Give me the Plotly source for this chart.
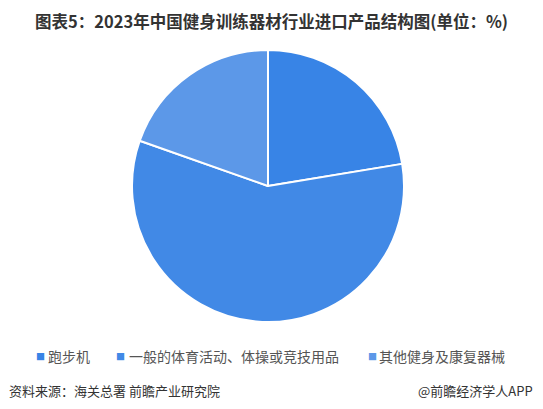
import plotly.graph_objects as go

# 2023年中国健身训练器材行业进口产品结构
categories = ['跑步机', '一般的体育活动、体操或竞技用品', '其他健身及康复器械']
shares = [22.4, 58.0, 19.6]
colors = ['#3884e6', '#4189e6', '#5c98e8']

# the page body adds an 8px margin, so the figure is drawn 8px smaller
# and every reference pixel position is shifted by that margin
W, H = 535, 401


def px(x):
    return (x - 8) / W


def py(y):
    return 1 - (y - 8) / H


fig = go.Figure(go.Pie(
    labels=categories,
    values=shares,
    sort=False,
    direction='clockwise',
    rotation=0,
    textinfo='none',
    hoverinfo='label+percent',
    marker=dict(colors=colors, line=dict(color='white', width=2)),
    domain=dict(x=[px(132), px(404)], y=[py(322), py(50)]),
))

# legend drawn by hand: small square + label, laid out like the original
square_x = [40, 120, 372]
label_x = [46, 127, 377]
notes = []
for name, col, sx, lx in zip(categories, colors, square_x, label_x):
    notes.append(dict(text='■', x=px(sx), y=py(356), xref='paper', yref='paper',
                      xanchor='center', yanchor='middle', showarrow=False,
                      font=dict(size=9, color=col)))
    notes.append(dict(text=name, x=px(lx), y=py(356), xref='paper', yref='paper',
                      xanchor='left', yanchor='middle', showarrow=False,
                      font=dict(size=14, color='#555')))

notes.append(dict(text='<b>图表5：2023年中国健身训练器材行业进口产品结构图(单位：%)</b>',
                  x=px(271.5), y=py(21), xref='paper', yref='paper',
                  xanchor='center', yanchor='middle', showarrow=False,
                  font=dict(size=16.5, color='#333')))
notes.append(dict(text='资料来源：海关总署 前瞻产业研究院', x=px(7), y=py(390),
                  xref='paper', yref='paper', xanchor='left', yanchor='middle',
                  showarrow=False, font=dict(size=13, color='#333')))
notes.append(dict(text='@前瞻经济学人APP', x=px(535), y=py(390),
                  xref='paper', yref='paper', xanchor='right', yanchor='middle',
                  showarrow=False, font=dict(size=13, color='#333')))

fig.update_layout(
    width=W, height=H,
    margin=dict(l=0, r=0, t=0, b=0),
    paper_bgcolor='white',
    font=dict(family='Noto Sans CJK SC', color='#444'),
    showlegend=False,
    annotations=notes,
)

fig.write_html('out.html')
